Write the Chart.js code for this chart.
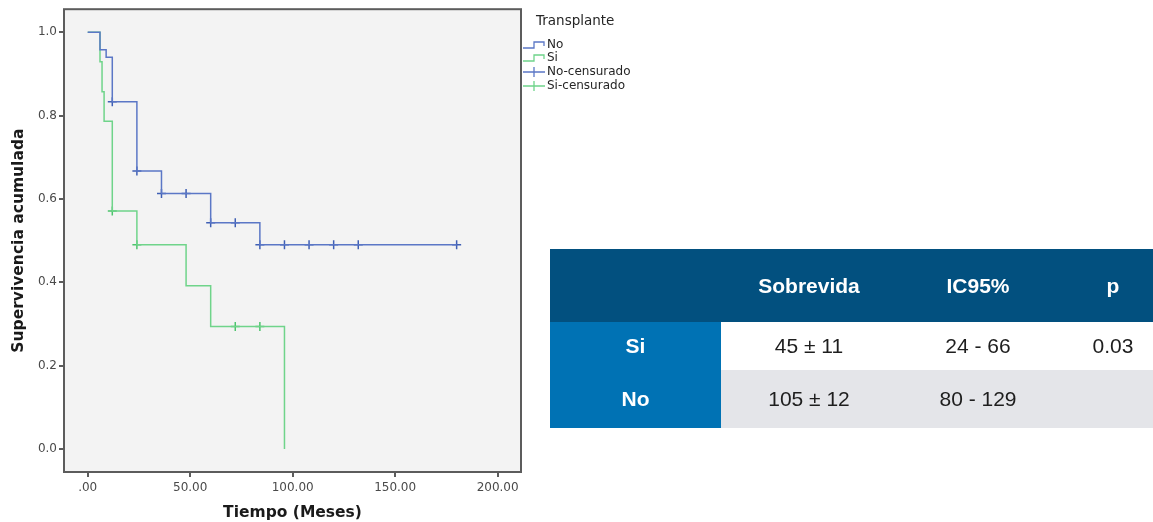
<!DOCTYPE html>
<html>
<head>
<meta charset="utf-8">
<title>Supervivencia acumulada por transplante</title>
<script src="https://cdn.jsdelivr.net/npm/chart.js@4.4.1/dist/chart.umd.min.js"></script>
<style>
  html, body { margin: 0; padding: 0; background: #ffffff; width: 1153px; height: 522px; overflow: hidden; }
  #plot { position: absolute; left: 0; top: 0; width: 660px; height: 522px; }
  #summary { position: absolute; left: 550px; top: 249px; width: 603px; overflow: hidden; }
  #summary table { border-collapse: collapse; table-layout: fixed; width: 617px;
    font-family: "Liberation Sans", Arial, sans-serif; font-size: 21px; }
  #summary td, #summary th { padding: 0; text-align: center; }
  #summary thead th { background: #02507f; color: #ffffff; font-weight: bold; height: 73px; }
  #summary tbody td { color: #1e1e1e; }
  #summary tbody tr.r0 td { height: 48px; background: #ffffff; }
  #summary tbody tr.r1 td { height: 58px; background: #e4e5e9; }
  #summary tbody tr td.rowhead { background: #0072b4; color: #ffffff; font-weight: bold; }
</style>
</head>
<body>
<div id="plot"><canvas id="km"></canvas></div>
<div id="summary"></div>

<script>
// Kaplan-Meier steps: time in months and cumulative survival after each step
const noTimes = [0, 6, 9, 12, 24, 36, 60, 84, 180];
const noSurv  = [1, 0.958, 0.94, 0.833, 0.667, 0.613, 0.543, 0.49, 0.49];
const siTimes = [0, 6, 7, 8, 12, 24, 48, 60, 96];
const siSurv  = [1, 0.929, 0.857, 0.786, 0.571, 0.49, 0.392, 0.294, 0];

// Censored observations (months)
const noCensored = [12, 24, 36, 48, 60, 72, 84, 96, 108, 120, 132, 180];
const siCensored = [12, 24, 72, 84];

// Axis ticks
const xTickValues = [0, 50, 100, 150, 200];
const xTickLabels = ['.00', '50.00', '100.00', '150.00', '200.00'];
const yTickValues = [0, 0.2, 0.4, 0.6, 0.8, 1.0];
const yTickLabels = ['0.0', '0.2', '0.4', '0.6', '0.8', '1.0'];

// Summary table
const tableHeader = ['', 'Sobrevida', 'IC95%', 'p'];
const tableRowLabels = ['Si', 'No'];
const tableSobrevida = ['45 ± 11', '105 ± 12'];
const tableIC = ['24 - 66', '80 - 129'];
const tableP = ['0.03', ''];

const BLUE = '#5b77c6';
const BLUE_MARK = '#3f5fb4';
const GREEN = '#6fd48a';
const GREEN_MARK = '#4cc46c';

function toPoints(times, values) {
  return times.map((t, i) => ({ x: t, y: values[i] }));
}
// Survival level of a step curve at time t
function levelAt(times, values, t) {
  let v = values[0];
  for (let i = 0; i < times.length; i++) { if (times[i] <= t) v = values[i]; }
  return v;
}
function censorPoints(cTimes, times, values) {
  return cTimes.map(t => ({ x: t, y: levelAt(times, values, t) }));
}

const framePlugin = {
  id: 'frame',
  beforeDatasetsDraw(chart) {
    const { ctx, chartArea: a } = chart;
    ctx.save();
    ctx.fillStyle = '#f3f3f3';
    ctx.fillRect(a.left, a.top, a.right - a.left, a.bottom - a.top);
    ctx.strokeStyle = '#5c5c5c';
    ctx.lineWidth = 2;
    ctx.strokeRect(a.left, a.top, a.right - a.left, a.bottom - a.top);
    ctx.restore();
  },
  afterDraw(chart) {
    const ctx = chart.ctx;
    ctx.save();
    ctx.fillStyle = '#262626';
    ctx.textBaseline = 'middle';
    ctx.font = '13.5px "DejaVu Sans"';
    ctx.fillText('Transplante', 536, 21);
    const items = [
      { label: 'No', color: BLUE, kind: 'step', y: 45 },
      { label: 'Si', color: GREEN, kind: 'step', y: 58 },
      { label: 'No-censurado', color: BLUE, kind: 'cross', y: 72 },
      { label: 'Si-censurado', color: GREEN, kind: 'cross', y: 86 }
    ];
    ctx.font = '12px "DejaVu Sans"';
    items.forEach(it => {
      ctx.strokeStyle = it.color;
      ctx.lineWidth = 1.3;
      ctx.beginPath();
      if (it.kind === 'step') {
        ctx.moveTo(523, it.y + 3);
        ctx.lineTo(534, it.y + 3);
        ctx.lineTo(534, it.y - 3);
        ctx.lineTo(544, it.y - 3);
        ctx.lineTo(544, it.y + 1);
      } else {
        ctx.moveTo(523, it.y);
        ctx.lineTo(545, it.y);
        ctx.moveTo(534, it.y - 5);
        ctx.lineTo(534, it.y + 5);
      }
      ctx.stroke();
      ctx.fillStyle = '#262626';
      ctx.fillText(it.label, 547, it.y);
    });
    ctx.restore();
  }
};

const tickFont = { family: 'DejaVu Sans', size: 12 };
const titleFont = { family: 'DejaVu Sans', size: 15.5, weight: 'bold' };

new Chart(document.getElementById('km'), {
  type: 'line',
  data: {
    datasets: [
      { label: 'No', data: toPoints(noTimes, noSurv), borderColor: BLUE, borderWidth: 1.5,
        stepped: 'before', pointRadius: 0, fill: false },
      { label: 'Si', data: toPoints(siTimes, siSurv), borderColor: GREEN, borderWidth: 1.5,
        stepped: 'before', pointRadius: 0, fill: false },
      { label: 'No-censurado', data: censorPoints(noCensored, noTimes, noSurv), showLine: false,
        pointStyle: 'cross', pointRadius: 4.5, pointBorderWidth: 1.5, borderColor: BLUE_MARK,
        pointBorderColor: BLUE_MARK },
      { label: 'Si-censurado', data: censorPoints(siCensored, siTimes, siSurv), showLine: false,
        pointStyle: 'cross', pointRadius: 4.5, pointBorderWidth: 1.5, borderColor: GREEN_MARK,
        pointBorderColor: GREEN_MARK }
    ]
  },
  options: {
    responsive: true,
    maintainAspectRatio: false,
    animation: false,
    layout: { padding: { top: 9, right: 139, left: 0, bottom: 0 } },
    plugins: { legend: { display: false }, tooltip: { enabled: false } },
    scales: {
      x: {
        type: 'linear', min: -11.56, max: 211.4,
        afterBuildTicks: s => { s.ticks = xTickValues.map(v => ({ value: v })); },
        afterFit: s => { s.height = 50; },
        ticks: { font: tickFont, color: '#4a4a4a', padding: 4, maxRotation: 0,
          callback: (v) => xTickLabels[xTickValues.indexOf(v)] },
        grid: { drawOnChartArea: false, drawTicks: true, tickLength: 5, color: '#5c5c5c', lineWidth: 2 },
        border: { display: false },
        title: { display: true, text: 'Tiempo (Meses)', font: titleFont, color: '#1a1a1a',
          padding: { top: 0, bottom: 0 } }
      },
      y: {
        type: 'linear', min: -0.055, max: 1.055,
        afterBuildTicks: s => { s.ticks = yTickValues.map(v => ({ value: v })); },
        afterFit: s => { s.width = 64; },
        ticks: { font: tickFont, color: '#4a4a4a', padding: 2,
          callback: (v) => yTickLabels[yTickValues.indexOf(v)] },
        grid: { drawOnChartArea: false, drawTicks: true, tickLength: 5, color: '#5c5c5c', lineWidth: 2 },
        border: { display: false },
        title: { display: true, text: 'Supervivencia acumulada', font: titleFont, color: '#1a1a1a',
          padding: { top: 10, bottom: 0 } }
      }
    }
  },
  plugins: [framePlugin]
});

// Summary table
(function buildTable() {
  const colWidths = [171, 176, 162, 108];
  let html = '<table><colgroup>' + colWidths.map(w => '<col style="width:' + w + 'px">').join('') +
    '</colgroup><thead><tr>' + tableHeader.map(h => '<th>' + h + '</th>').join('') + '</tr></thead><tbody>';
  tableRowLabels.forEach((lab, i) => {
    html += '<tr class="r' + i + '"><td class="rowhead">' + lab + '</td><td>' + tableSobrevida[i] +
      '</td><td>' + tableIC[i] + '</td><td>' + tableP[i] + '</td></tr>';
  });
  html += '</tbody></table>';
  document.getElementById('summary').innerHTML = html;
})();
</script>
</body>
</html>
